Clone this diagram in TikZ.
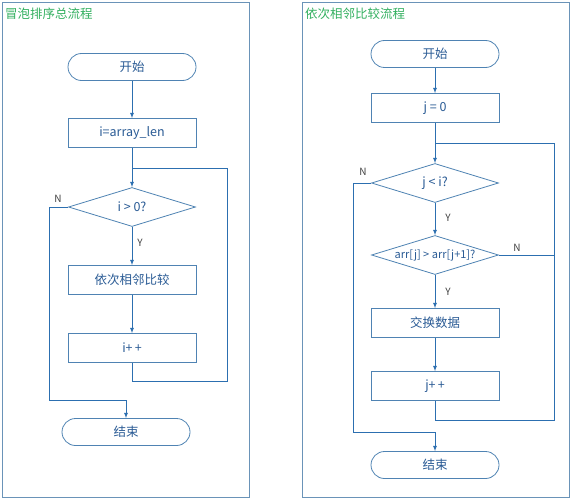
\documentclass[tikz,border=0pt]{standalone}
\usepackage{fontspec}
\setmainfont{Noto Sans CJK SC}
\usepackage{xcolor}
\usetikzlibrary{shapes.geometric,arrows,positioning,calc}
\definecolor{frameblue}{HTML}{6A93B8}
\definecolor{boxblue}{HTML}{4F83B3}
\definecolor{arrblue}{HTML}{2C6FB0}
\definecolor{txtblue}{HTML}{2A5B95}
\definecolor{titlegreen}{HTML}{33B060}

\begin{document}
\begin{tikzpicture}[x=1pt,y=-1pt,
	box/.style={draw=boxblue,line width=0.8pt,minimum width=128pt,minimum height=29pt,inner sep=0pt,text=txtblue,font=\fontsize{12.5}{14}\selectfont},
	term/.style={box,rounded corners=13.5pt,minimum height=27pt},
	cond/.style={box,shape=diamond,minimum width=127pt,minimum height=39pt,aspect=3.3,inner sep=-5pt},
	line/.style={line width=0.8pt,draw=arrblue},
	arr/.style={line,-latex},
	yn/.style={text=black!75,font=\fontsize{10}{11}\selectfont,inner sep=0pt},
	title/.style={text=titlegreen,font=\fontsize{12.5}{14}\selectfont,anchor=west,inner sep=0pt}]
	\useasboundingbox (0,0) rectangle (572,500);
	\fill[white] (0,0) rectangle (572,500);
	% frames
	\draw[frameblue,line width=0.9pt] (2,2) rectangle (249,497);
	\draw[frameblue,line width=0.9pt] (302,2) rectangle (569,497);
	\node[title] (title1) at (5,14) {冒泡排序总流程};
	\node[title] (title2) at (305,14) {依次相邻比较流程};

	% left: bubble sort
	\node[term] (start1) at (132,67) {开始};
	\node[box] (init1) at (132,133) {i=array\_len};
	\node[cond] (cond1) at (132,207) {i > 0?};
	\node[box] (cmp1) at (132,280) {依次相邻比较};
	\node[box] (inc1) at (132,348) {i+\,+};
	\node[term] (end1) at (126,432) {结束};
	\coordinate (join1) at (132,168);
	\coordinate (loop1) at (227,381);
	\coordinate (no1) at (49,400);
	\node[yn] (n1) at (58,199) {N};
	\node[yn] (y1) at (140,243) {Y};
	\draw[arr] (start1) -- (init1);
	\draw[arr] (init1) -- (cond1);
	\draw[arr] (cond1) -- (cmp1);
	\draw[arr] (cmp1) -- (inc1);
	\draw[line] (inc1.south) |- (loop1) |- (join1);
	\draw[arr] (cond1.west) -| (no1) -| (end1.north);

	% right: compare neighbours
	\node[term] (start2) at (435,54) {开始};
	\node[box] (init2) at (435,108) {j = 0};
	\node[cond] (cond2) at (435,183) {j < i?};
	\node[cond,font=\fontsize{11}{12}\selectfont] (cmp2) at (435,255) {arr[j] > arr[j+1]?};
	\node[box] (swap2) at (435,323) {交换数据};
	\node[box] (inc2) at (435,386) {j+\,+};
	\node[term] (end2) at (435,465) {结束};
	\coordinate (join2) at (435,143);
	\coordinate (loop2) at (554,420);
	\coordinate (no2) at (353,432);
	\node[yn] (n2) at (363,172) {N};
	\node[yn] (y2) at (448,218) {Y};
	\node[yn] (n3) at (517,248) {N};
	\node[yn] (y3) at (448,292) {Y};
	\draw[arr] (start2) -- (init2);
	\draw[arr] (init2) -- (cond2);
	\draw[arr] (cond2) -- (cmp2);
	\draw[arr] (cmp2) -- (swap2);
	\draw[arr] (swap2) -- (inc2);
	\draw[line] (inc2.south) |- (loop2) |- (join2);
	\draw[line] (cmp2.east) -- (cmp2.east -| loop2);
	\draw[arr] (cond2.west) -| (no2) -| (end2.north);
\end{tikzpicture}
\end{document}
